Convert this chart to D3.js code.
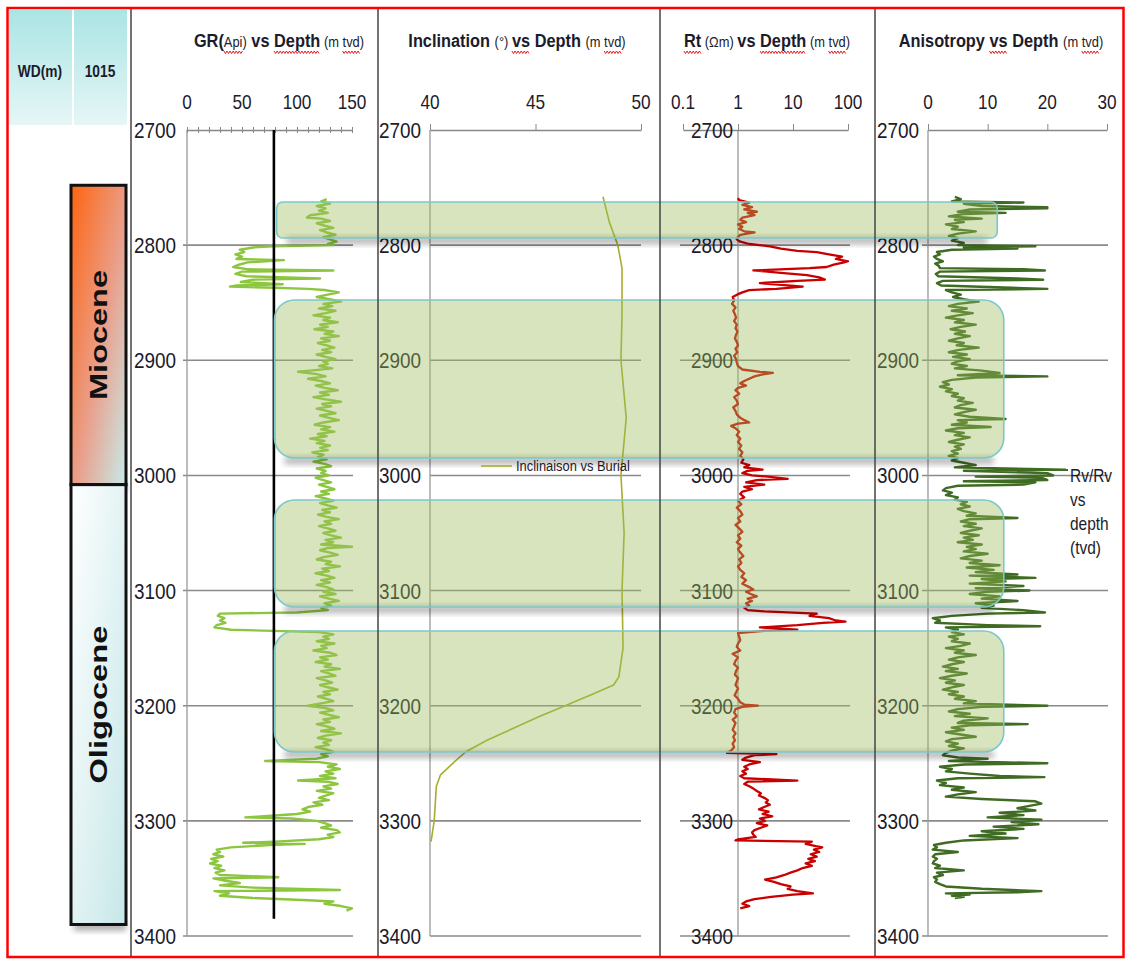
<!DOCTYPE html>
<html>
<head>
<meta charset="utf-8">
<script src="https://cdn.jsdelivr.net/npm/d3@7"></script>
<style>
  body { margin: 0; background: #fff; }
  text { font-family: "Liberation Sans Narrow", "Arial Narrow", "Liberation Sans", sans-serif; fill: #1b1b2b; }
  .era { font-family: "Liberation Sans", Arial, sans-serif; font-weight: bold; fill: #111; }
</style>
</head>
<body>
<svg id="chart" width="1126" height="961"></svg>
<script>
'use strict';

// ---- data ----
var depthTicks = [2700, 2800, 2900, 3000, 3100, 3200, 3300, 3400];
var grTicks = [0, 50, 100, 150];
var incTicks = [40, 45, 50];
var rtTicks = [0.1, 1, 10, 100];
var anisoTicks = [0, 10, 20, 30];
var grCutoff = 79;
var grCutoffBase = 3385;
var waterDepth = '1015';

// [top, bottom] depth of each era
var eras = [
  { name: 'Miocene', top: 2748, bottom: 3008 },
  { name: 'Oligocene', top: 3008, bottom: 3390 }
];

// highlighted intervals: depth top/bottom, left edge in GR units, right edge in anisotropy units
var zones = [
  { top: 2762.5, bottom: 2793.8, gr: 81.5, an: 11.6, r: 6 },
  { top: 2847.6, bottom: 2984.9, gr: 79.5, an: 12.7, r: 20 },
  { top: 3021.3, bottom: 3114.3, gr: 79.5, an: 12.7, r: 20 },
  { top: 3135.1, bottom: 3240.2, gr: 79.5, an: 12.7, r: 20 }
];

// [depth, GR api]
var grLog = [
  [2760,127],[2762,122],[2764,130],[2766,118],[2768,126],[2770,120],[2772,128],[2774,112],[2776,109],[2777,122],
  [2779,130],[2781,118],[2783,125],[2785,133],[2787,121],[2789,127],[2791,135],[2793,124],[2795,130],[2797,136],
  [2799,128],[2800,133],[2801,78],[2802,60],[2804,48],[2806,52],[2808,44],[2810,50],[2812,45],[2813,88],
  [2815,55],[2817,47],[2819,42],[2821,56],[2822,133],[2823,50],[2825,44],[2827,54],[2829,121],[2830,60],
  [2832,49],[2834,87],[2835,45],[2836,39],[2837,80],[2838,110],[2839,125],[2841,138],[2843,128],[2845,118],
  [2847,130],[2849,140],[2851,124],[2853,132],[2855,120],[2857,135],[2859,126],[2861,115],[2863,130],[2865,124],
  [2867,137],[2869,121],[2871,128],[2873,116],[2875,133],[2877,125],[2879,138],[2881,122],[2883,130],[2885,119],
  [2887,127],[2889,134],[2891,123],[2893,131],[2895,118],[2897,126],[2899,135],[2901,124],[2903,128],[2905,120],
  [2907,132],[2909,112],[2910,101],[2912,118],[2914,126],[2916,110],[2918,122],[2920,130],[2922,117],[2924,125],
  [2926,137],[2928,121],[2930,129],[2932,115],[2934,126],[2936,140],[2938,123],[2940,131],[2942,118],[2944,127],
  [2946,135],[2948,121],[2950,129],[2952,138],[2954,124],[2956,116],[2958,130],[2960,122],[2962,134],[2964,119],
  [2966,127],[2968,112],[2970,125],[2972,118],[2974,130],[2976,121],[2978,128],[2980,114],[2982,124],[2984,119],
  [2986,127],[2988,115],[2990,125],[2992,131],[2994,118],[2996,126],[2998,122],[3000,129],[3002,117],[3004,124],
  [3006,131],[3008,120],[3010,127],[3012,134],[3014,122],[3016,129],[3018,117],[3020,126],[3022,133],[3024,121],
  [3026,128],[3028,136],[3030,123],[3032,130],[3034,119],[3036,127],[3038,138],[3040,125],[3042,131],[3044,120],
  [3046,128],[3048,135],[3050,124],[3052,131],[3054,140],[3056,126],[3058,133],[3060,122],[3062,150],[3063,128],
  [3065,121],[3067,130],[3069,137],[3071,124],[3073,118],[3075,131],[3077,126],[3079,139],[3081,123],[3083,129],
  [3085,117],[3087,127],[3089,134],[3091,122],[3093,130],[3095,118],[3097,127],[3099,133],[3101,124],[3103,135],
  [3105,121],[3107,129],[3109,138],[3111,125],[3113,131],[3115,122],[3117,128],[3119,100],[3120,30],[3122,28],
  [3124,34],[3126,30],[3128,35],[3130,27],[3132,25],[3134,40],[3135,78],[3136,120],[3138,133],[3140,124],
  [3142,129],[3144,118],[3146,134],[3148,122],[3150,127],[3152,115],[3154,130],[3156,136],[3158,121],[3160,128],
  [3162,117],[3164,131],[3166,125],[3168,139],[3170,122],[3172,129],[3174,135],[3176,118],[3178,126],[3180,132],
  [3182,121],[3184,128],[3186,137],[3188,124],[3190,130],[3192,119],[3194,127],[3196,133],[3198,122],[3200,110],
  [3202,126],[3204,133],[3206,121],[3208,129],[3210,138],[3212,124],[3214,130],[3216,118],[3218,127],[3220,134],
  [3222,122],[3224,140],[3226,126],[3228,119],[3230,131],[3232,124],[3234,129],[3236,117],[3238,127],[3240,133],
  [3242,122],[3244,128],[3246,118],[3248,71],[3249,120],[3251,136],[3253,128],[3255,139],[3257,126],[3259,133],
  [3261,121],[3263,135],[3265,101],[3266,128],[3268,137],[3270,124],[3272,131],[3274,118],[3276,133],[3278,126],
  [3280,120],[3282,129],[3284,115],[3286,123],[3288,110],[3290,105],[3292,112],[3294,100],[3296,70],[3297,53],
  [3298,95],[3300,118],[3302,125],[3304,131],[3306,122],[3308,136],[3310,139],[3312,128],[3314,133],[3316,120],
  [3318,80],[3319,51],[3320,107],[3321,75],[3323,40],[3325,27],[3327,30],[3329,24],[3331,33],[3333,22],
  [3335,28],[3337,21],[3339,31],[3341,25],[3343,34],[3345,26],[3347,30],[3349,83],[3350,24],[3352,35],
  [3354,48],[3356,30],[3358,60],[3360,139],[3361,25],[3363,38],[3365,30],[3367,60],[3369,110],[3370,133],
  [3372,125],[3374,140],[3376,150],[3378,145]
];

// [depth, inclination deg]
var incLog = [
  [2758,48.2],[2780,48.5],[2800,48.9],[2820,49.1],[2860,49.1],[2900,49.05],[2950,49.3],[3000,49.05],
  [3050,49.2],[3100,49.1],[3150,49.15],[3175,48.95],[3182,48.7],[3190,47.7],[3200,46.4],[3210,45.1],
  [3220,43.9],[3230,42.7],[3240,41.7],[3248,41.2],[3260,40.5],[3270,40.3],[3300,40.2],[3318,40.05]
];

// [depth, Rt ohm.m]
var rtLog = [
  [2759,1.0],[2761,1.05],[2763,1.6],[2765,1.2],[2767,1.8],[2769,1.3],[2771,2.2],[2772,1.5],[2774,2.0],[2776,1.2],
  [2778,1.1],[2780,1.4],[2782,1.0],[2784,1.2],[2786,1.05],[2788,1.3],[2789,2.0],[2791,1.1],[2793,1.0],[2795,0.95],
  [2797,1.1],[2799,1.6],[2801,3.8],[2803,6],[2805,12],[2806,27],[2808,45],[2810,78],[2812,60],[2814,100],
  [2815,85],[2817,55],[2819,41],[2820,20],[2822,1.9],[2824,6],[2826,18],[2828,30],[2830,38],[2831,12],
  [2833,2.5],[2835,8],[2836,15],[2838,5],[2839,1.6],[2841,1.2],[2843,0.96],[2845,0.8],[2848,0.85],[2851,0.78],
  [2854,0.9],[2857,0.82],[2860,0.88],[2863,0.92],[2866,0.85],[2869,0.95],[2872,0.9],[2875,0.98],[2878,0.92],[2881,0.88],
  [2884,0.95],[2887,1.0],[2890,0.9],[2893,0.97],[2896,0.85],[2899,0.92],[2902,0.95],[2905,1.0],[2908,1.2],[2910,2.5],
  [2911,4.3],[2912,3.0],[2914,2.0],[2916,1.6],[2918,1.3],[2920,1.1],[2922,1.4],[2924,1.0],[2926,0.9],[2929,1.05],
  [2932,0.85],[2935,0.95],[2938,1.0],[2941,0.82],[2944,0.9],[2947,0.95],[2950,1.1],[2952,1.3],[2954,1.6],[2955,1.0],
  [2957,0.75],[2959,0.9],[2962,1.05],[2965,0.95],[2968,1.1],[2971,1.0],[2974,1.15],[2977,1.05],[2980,1.2],[2983,1.1],
  [2986,1.25],[2989,1.15],[2991,1.6],[2993,1.3],[2995,2.8],[2996,1.5],[2998,1.2],[3000,1.8],[3001,3.5],[3003,8],
  [3004,2.2],[3006,1.4],[3008,3.0],[3010,1.3],[3012,1.8],[3014,1.2],[3016,1.1],[3019,1.3],[3022,1.0],[3025,1.15],
  [3028,0.95],[3031,1.1],[3034,1.2],[3037,1.0],[3040,1.1],[3043,0.9],[3046,1.05],[3049,1.2],[3052,1.0],[3055,1.1],
  [3058,0.95],[3061,1.15],[3064,1.0],[3067,1.1],[3070,1.25],[3073,1.05],[3076,1.15],[3079,1.0],[3082,1.1],[3085,1.3],
  [3088,1.15],[3091,1.4],[3094,1.2],[3097,1.6],[3099,1.9],[3101,1.4],[3103,1.7],[3105,2.2],[3107,1.5],[3109,1.8],
  [3111,1.4],[3113,1.6],[3115,1.3],[3117,1.5],[3118,3],[3120,27],[3122,20],[3124,45],[3126,60],[3127,90],
  [3128,35],[3130,12],[3132,2.5],[3133,6],[3134,12],[3135,3],[3137,1.0],[3140,1.05],[3143,1.1],[3146,1.0],
  [3149,0.95],[3152,1.1],[3155,0.8],[3158,1.0],[3161,0.9],[3164,0.85],[3167,1.0],[3170,0.92],[3173,0.88],[3176,1.0],
  [3179,0.95],[3182,0.9],[3185,1.0],[3188,0.93],[3191,0.87],[3194,1.0],[3197,1.1],[3199,1.3],[3200,2.3],[3201,1.2],
  [3203,0.9],[3206,0.85],[3209,0.95],[3212,0.8],[3215,0.9],[3218,0.85],[3221,0.8],[3224,0.9],[3227,0.82],[3230,0.88],
  [3233,0.8],[3236,0.85],[3239,0.75],[3241,0.63],[3242,5],[3243,2],[3245,1.4],[3247,1.2],[3249,2.5],[3251,1.6],
  [3253,1.3],[3255,1.5],[3257,1.2],[3259,1.4],[3261,1.1],[3263,1.3],[3265,12],[3266,1.5],[3268,1.3],[3270,1.6],
  [3272,1.9],[3274,2.2],[3276,2.6],[3278,2.4],[3280,3.0],[3282,3.5],[3284,3.2],[3286,3.8],[3288,3.0],[3290,2.4],
  [3292,3.6],[3294,2.8],[3296,4.2],[3298,2.5],[3300,3.1],[3302,2.2],[3304,3.4],[3306,2.6],[3308,2.0],[3310,1.8],
  [3312,1.9],[3314,2.1],[3316,1.0],[3317,0.9],[3318,22],[3320,17],[3322,26],[3323,34],[3325,24],[3327,30],
  [3329,21],[3331,27],[3333,19],[3335,25],[3337,17],[3339,22],[3341,15],[3343,12],[3345,9],[3347,7],
  [3349,5],[3351,3.1],[3353,4.5],[3355,6],[3357,9],[3359,8],[3361,12],[3363,23],[3364,10],[3366,4],
  [3368,2],[3370,1.4],[3372,1.2],[3374,1.6],[3376,1.1]
];

// [depth, Rv/Rh]
var anisoLog = [
  [2758,4.5],[2760,5.5],[2762,4],[2763,16],[2764,6],[2766,9],[2767,20],[2768,20],[2769,7],[2771,5],
  [2772,13],[2773,6],[2775,3.5],[2777,9],[2778,4.5],[2780,6],[2782,3],[2784,5],[2786,4],[2788,8],
  [2790,5],[2792,3.5],[2794,5],[2796,4],[2798,6],[2800,5],[2801,18],[2802,6],[2803,15],[2804,4],
  [2806,1.5],[2808,2],[2810,1],[2812,1.5],[2814,2.5],[2816,1.2],[2818,1.8],[2820,2],[2821,16],[2822,19.6],
  [2823,2],[2825,1.3],[2827,1.7],[2829,15],[2830,19.3],[2831,2.5],[2833,1.5],[2835,2.2],[2837,14],[2838,20],
  [2839,3],[2841,4],[2843,5.5],[2845,4.2],[2847,6],[2849,8.5],[2851,5],[2853,3.5],[2855,6.5],[2857,4],
  [2859,7.5],[2861,5],[2863,3],[2865,6],[2867,4.5],[2869,8],[2871,5.5],[2873,3.8],[2875,6.2],[2877,4.5],
  [2879,7],[2881,5],[2883,3.5],[2885,6],[2887,4.8],[2889,8.5],[2891,5.2],[2893,3.5],[2895,6.5],[2897,4.2],
  [2899,7],[2901,5],[2903,4],[2905,6.5],[2907,4.5],[2909,9],[2911,12],[2913,5],[2914,20],[2915,8],
  [2917,4],[2919,2.5],[2921,3.5],[2923,2],[2925,4],[2927,3],[2929,5],[2931,4],[2933,6],[2935,5],
  [2937,7.5],[2939,5.5],[2941,4.5],[2943,8],[2945,6],[2947,4.5],[2949,7],[2951,13],[2952,5],[2954,6.5],
  [2956,4],[2958,10.5],[2959,5],[2961,3],[2963,6],[2965,4.5],[2967,7],[2969,5],[2971,3.5],[2973,6],
  [2975,4.5],[2977,5.5],[2979,4],[2981,5],[2983,3.5],[2985,5],[2987,4],[2989,6],[2991,8],[2993,4.5],
  [2995,23],[2996,6],[2998,20],[3000,21],[3001,8],[3002,19],[3004,20],[3005,6],[3006,18],[3008,16],
  [3009,5],[3011,3],[3013,2.5],[3015,4],[3017,3],[3019,5],[3021,4.5],[3023,6.5],[3025,5.5],[3027,7],
  [3029,5],[3031,6],[3033,8],[3035,6.5],[3037,15],[3038,7],[3040,5.5],[3042,8],[3044,6],[3046,9],
  [3048,7],[3050,5.5],[3052,8.5],[3054,6],[3056,7.5],[3058,5],[3060,9],[3062,6.5],[3064,8],[3066,6],
  [3068,10],[3070,7],[3072,5.5],[3074,9],[3076,7],[3078,12],[3080,6.5],[3082,11],[3084,8],[3086,15],
  [3087,7],[3089,18],[3090,9],[3092,13],[3094,7],[3096,16],[3098,8],[3100,17],[3101,10],[3103,7],
  [3105,12],[3107,9],[3109,15],[3111,8],[3113,11],[3115,9],[3117,16],[3119,19.6],[3120,10],[3122,4],
  [3124,0.8],[3126,2],[3128,1.2],[3130,10],[3131,18.8],[3132,3],[3134,5],[3136,4],[3138,6],[3140,3.5],
  [3142,5],[3144,4],[3146,7],[3148,5.5],[3150,3],[3152,6],[3154,4.5],[3156,8],[3158,5],[3160,3.5],
  [3162,6],[3164,4],[3166,2.5],[3168,5],[3170,3],[3172,6.5],[3174,4],[3176,2],[3178,4.5],[3180,3],
  [3182,6],[3184,4],[3186,2.5],[3188,5],[3190,3.5],[3192,6],[3194,4.5],[3196,8],[3198,6],[3200,20],
  [3201,9],[3203,5],[3205,3.5],[3207,7],[3209,4.5],[3211,10],[3213,6],[3215,5],[3216,16.7],[3217,7],
  [3219,4],[3221,6],[3223,3],[3225,5.5],[3227,8],[3229,4],[3231,3],[3233,5],[3235,3.5],[3237,6],
  [3239,4],[3241,3],[3243,2.5],[3245,5],[3246,10],[3248,3.5],[3250,20],[3251,6],[3253,2],[3255,4],
  [3257,3],[3259,7],[3261,12],[3262,19.5],[3263,5],[3265,1.5],[3267,3],[3269,2],[3271,6],[3273,4],
  [3275,8],[3277,5],[3279,3],[3281,9],[3283,18],[3285,19],[3287,17],[3289,15],[3291,18],[3293,12],
  [3295,16],[3297,10],[3299,19],[3301,14],[3303,18.5],[3305,11],[3307,16],[3309,9],[3311,13],[3313,7],
  [3315,15],[3317,6],[3319,3],[3321,1],[3323,1.5],[3325,0.8],[3327,5],[3329,1.2],[3331,0.8],[3333,1.5],
  [3335,1],[3337,0.8],[3339,2],[3341,1.2],[3343,6],[3345,1.5],[3347,2.5],[3349,1],[3351,1.5],[3353,1.2],
  [3355,2],[3357,3],[3359,9],[3361,19],[3362,15],[3363,3],[3364,7],[3365,4],[3366,6],[3367,4.5]
];

// ---- layout ----
var svg = d3.select('#chart');
var defs = svg.append('defs');
var squeeze = 0.86; // the original uses a narrow face

var y = d3.scaleLinear().domain([2700, 3400]).range([130, 936]);
var grX = d3.scaleLinear().domain([0, 150]).range([187, 352]);
var incX = d3.scaleLinear().domain([40, 50]).range([430, 641]);
var rtX = d3.scaleLog().domain([0.1, 100]).range([683, 848]);
var anX = d3.scaleLinear().domain([0, 30]).range([928, 1107]);

function narrow(sel, x, yy) {
  return sel.attr('transform', 'translate(' + x + ',' + yy + ') scale(' + squeeze + ',1)');
}

// gradients
var hdr = defs.append('linearGradient').attr('id', 'hdr').attr('x1', 0).attr('y1', 0).attr('x2', 0).attr('y2', 1);
hdr.append('stop').attr('offset', '0%').attr('stop-color', '#abe4e4');
hdr.append('stop').attr('offset', '100%').attr('stop-color', '#e6f6f6');

var mio = defs.append('linearGradient').attr('id', 'mio').attr('x1', 0).attr('y1', 0).attr('x2', 1).attr('y2', 1);
mio.append('stop').attr('offset', '0%').attr('stop-color', '#ff6410');
mio.append('stop').attr('offset', '55%').attr('stop-color', '#e9a08c');
mio.append('stop').attr('offset', '100%').attr('stop-color', '#c8ebea');

var oli = defs.append('linearGradient').attr('id', 'oli').attr('x1', 0).attr('y1', 0).attr('x2', 1).attr('y2', 1);
oli.append('stop').attr('offset', '0%').attr('stop-color', '#ffffff');
oli.append('stop').attr('offset', '100%').attr('stop-color', '#c6e7e8');

defs.append('filter').attr('id', 'blur').attr('x', '-20%').attr('y', '-50%').attr('width', '140%').attr('height', '200%')
  .append('feGaussianBlur').attr('stdDeviation', 3);

// header cells
svg.append('rect').attr('x', 9).attr('y', 10).attr('width', 63).attr('height', 115).attr('fill', 'url(#hdr)');
svg.append('rect').attr('x', 74).attr('y', 10).attr('width', 53).attr('height', 115).attr('fill', 'url(#hdr)');
narrow(svg.append('text'), 40, 77).attr('text-anchor', 'middle')
  .style('font-size', '16px').style('font-weight', 'bold').text('WD(m)');
narrow(svg.append('text'), 100, 77).attr('text-anchor', 'middle')
  .style('font-size', '16px').style('font-weight', 'bold').text(waterDepth);

// era column
eras.forEach(function(e, i) {
  var top = y(e.top), h = y(e.bottom) - y(e.top);
  svg.append('rect').attr('x', 74).attr('y', top + h - 2).attr('width', 52).attr('height', 8)
    .attr('fill', '#000').attr('opacity', 0.35).attr('filter', 'url(#blur)');
  svg.append('rect').attr('x', 71).attr('y', top).attr('width', 55).attr('height', h)
    .attr('fill', i === 0 ? 'url(#mio)' : 'url(#oli)').attr('stroke', '#111').attr('stroke-width', 3);
  svg.append('text').attr('class', 'era')
    .attr('transform', 'translate(' + 107 + ',' + (top + h / 2) + ') rotate(-90)')
    .attr('text-anchor', 'middle').style('font-size', '24px')
    .attr('textLength', i === 0 ? 130 : 158).attr('lengthAdjust', 'spacingAndGlyphs')
    .text(e.name);
});

// gridlines
var tracks = [
  { x: grX, from: 183, to: 353, vline: 0 },
  { x: incX, from: 430, to: 641, vline: 40 },
  { x: rtX, from: 680, to: 850, vline: 1 },
  { x: anX, from: 922, to: 1108, vline: 0 }
];

tracks.forEach(function(t) {
  svg.append('g').selectAll('line')
    .data(depthTicks.slice(1))
    .enter()
    .append('line')
    .attr('x1', t.from).attr('x2', t.to)
    .attr('y1', function(d) { return y(d); })
    .attr('y2', function(d) { return y(d); })
    .attr('stroke', '#8a8a8a').attr('stroke-width', 1.6);
  svg.append('line')
    .attr('x1', t.x(t.vline)).attr('x2', t.x(t.vline))
    .attr('y1', y(2700)).attr('y2', y(3400))
    .attr('stroke', '#999').attr('stroke-width', 1.3);
});

// top axes
function topAxis(scale, ticks, minor) {
  var g = svg.append('g').attr('transform', 'translate(0,' + y(2700) + ')');
  g.call(d3.axisTop(scale).tickValues(minor || ticks).tickSizeInner(4).tickSizeOuter(0).tickFormat(''));
  g.select('.domain').attr('stroke', '#888').attr('stroke-width', 1.3);
  g.selectAll('.tick line').attr('stroke', '#888').attr('y2', minor ? -3 : -6).attr('y1', minor ? 3 : 0);
  g.selectAll('.lbl')
    .data(ticks)
    .enter()
    .append('text')
    .attr('transform', function(d) { return 'translate(' + scale(d) + ',-21) scale(0.82,1)'; })
    .attr('text-anchor', 'middle')
    .style('font-size', '21px')
    .text(function(d) { return d; });
}
topAxis(grX, grTicks, d3.range(0, 151, 10));
topAxis(incX, incTicks);
topAxis(rtX, rtTicks);
topAxis(anX, anisoTicks);

// depth labels
var depthLabels = [
  { x: 176, anchor: 'end' },
  { x: 379, anchor: 'start' },
  { x: 712, anchor: 'middle' },
  { x: 877, anchor: 'start' }
];
depthLabels.forEach(function(l) {
  svg.append('g').selectAll('text')
    .data(depthTicks)
    .enter()
    .append('text')
    .attr('transform', function(d) { return 'translate(' + l.x + ',' + (y(d) + 8) + ') scale(' + squeeze + ',1)'; })
    .attr('text-anchor', l.anchor)
    .style('font-size', '22px')
    .text(function(d) { return d; });
});

// curves
function curve(data, scale, color, width) {
  svg.append('path')
    .datum(data)
    .attr('fill', 'none')
    .attr('stroke', color)
    .attr('stroke-width', width)
    .attr('stroke-linejoin', 'round')
    .attr('d', d3.line()
      .x(function(d) { return scale(d[1]); })
      .y(function(d) { return y(d[0]); }));
}
curve(grLog, grX, '#8cc63f', 2.4);
curve(incLog, incX, '#a7ad2c', 1.6);
curve(rtLog, rtX, '#c80000', 2.3);
curve(anisoLog, anX, '#3f6b22', 2.4);

// GR cutoff line
svg.append('line')
  .attr('x1', grX(grCutoff)).attr('x2', grX(grCutoff))
  .attr('y1', y(2700)).attr('y2', y(grCutoffBase))
  .attr('stroke', '#000').attr('stroke-width', 2.6);

// highlighted zones
zones.forEach(function(z) {
  var x0 = grX(z.gr), x1 = anX(z.an), y0 = y(z.top), y1 = y(z.bottom);
  svg.append('rect').attr('x', x0 + 10).attr('y', y1 - 1).attr('width', x1 - x0 - 20).attr('height', 7)
    .attr('fill', '#000').attr('opacity', 0.3).attr('filter', 'url(#blur)');
  svg.append('rect')
    .attr('x', x0).attr('y', y0).attr('width', x1 - x0).attr('height', y1 - y0)
    .attr('rx', z.r).attr('ry', z.r)
    .attr('fill', 'rgba(155,187,89,0.4)')
    .attr('stroke', '#7cc7c9').attr('stroke-width', 1.6);
});

// legends
svg.append('line').attr('x1', 481).attr('x2', 512).attr('y1', 466).attr('y2', 466)
  .attr('stroke', '#a7ad2c').attr('stroke-width', 1.6);
narrow(svg.append('text'), 516, 471).style('font-size', '15px').text('Inclinaison vs Burial');

svg.append('line').attr('x1', 1035).attr('x2', 1068).attr('y1', 470).attr('y2', 470)
  .attr('stroke', '#3f6b22').attr('stroke-width', 2);
['Rv/Rv', 'vs', 'depth', '(tvd)'].forEach(function(s, i) {
  narrow(svg.append('text'), 1070, 482 + i * 24).style('font-size', '18px').text(s);
});

// titles with spell-check squiggles
var titles = [
  { cx: 279, parts: [['GR(', 1], ['Api', 0, 1], [')', 0], [' vs ', 1], ['Depth', 1, 1], [' (m ', 0], ['tvd', 0, 1], [')', 0]] },
  { cx: 517, parts: [['Inclination ', 1], ['(°) ', 0], ['vs', 1, 1], [' Depth ', 1], ['(m ', 0], ['tvd', 0, 1], [')', 0]] },
  { cx: 767, parts: [['Rt', 1, 1], [' (Ωm) ', 0], ['vs ', 1], ['Depth', 1, 1], [' (m ', 0], ['tvd', 0, 1], [')', 0]] },
  { cx: 1001, parts: [['Anisotropy ', 1], ['vs', 1, 1], [' Depth ', 1], ['(m ', 0], ['tvd', 0, 1], [')', 0]] }
];
titles.forEach(function(t) {
  var g = svg.append('g');
  var cursor = 0, marks = [];
  t.parts.forEach(function(p) {
    var el = g.append('text')
      .attr('x', cursor).attr('y', 47)
      .style('font-size', p[1] ? '19px' : '15px')
      .style('font-weight', p[1] ? 'bold' : 'normal')
      .style('white-space', 'pre')
      .text(p[0]);
    var w = el.node().getComputedTextLength();
    if (p[2]) marks.push([cursor, cursor + w]);
    cursor += w;
  });
  g.attr('transform', 'translate(' + (t.cx - cursor * squeeze / 2) + ',0) scale(' + squeeze + ',1)');
  marks.forEach(function(m) {
    var d = 'M' + m[0] + ',51';
    for (var x = m[0] + 1.8, k = 1; x <= m[1]; x += 1.8, k++) {
      d += 'L' + x + ',' + (k % 2 ? 53.5 : 51);
    }
    g.append('path').attr('d', d).attr('fill', 'none').attr('stroke', '#e01010').attr('stroke-width', 1);
  });
});

// track separators and frame
[131, 378, 660, 875].forEach(function(x) {
  svg.append('line').attr('x1', x).attr('x2', x).attr('y1', 9).attr('y2', 956)
    .attr('stroke', '#444').attr('stroke-width', 1.5);
});
svg.append('rect').attr('x', 7.5).attr('y', 8).attr('width', 1116).attr('height', 949)
  .attr('fill', 'none').attr('stroke', '#ff0000').attr('stroke-width', 2.5);
</script>
</body>
</html>
